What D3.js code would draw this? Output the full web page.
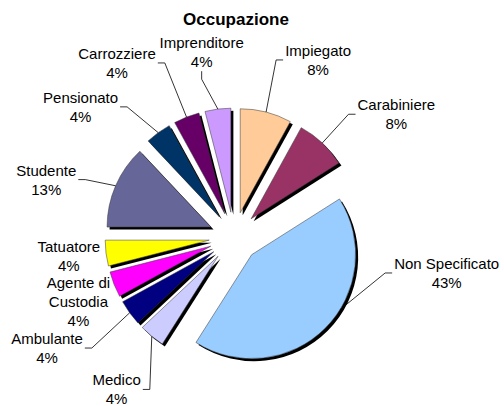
<!DOCTYPE html>
<html>
<head>
<meta charset="utf-8">
<script src="https://cdn.jsdelivr.net/npm/d3@7"></script>
<style>
  html, body { margin: 0; padding: 0; background: #fff; }
  svg { display: block; }
  text { font-family: Arial, "Liberation Sans", sans-serif; fill: #000; }
</style>
</head>
<body>
<svg width="504" height="406"></svg>
<script>
// data, clockwise from 12 o'clock
var categories = ['Impiegato', 'Carabiniere', 'Non Specificato', 'Medico', 'Ambulante',
    'Agente di Custodia', 'Tatuatore', 'Studente', 'Pensionato', 'Carrozziere', 'Imprenditore'];
var values = [8, 8, 43, 4, 4, 4, 4, 13, 4, 4, 4];
var colors = ['#FFCC99', '#993366', '#99CCFF', '#CCCCFF', '#000080',
    '#FF00FF', '#FFFF00', '#666699', '#003366', '#660066', '#CC99FF'];

// label layout (polar, around the pie centre), labels were hand placed in the original
var labelAngle = [25.4, 52.9, 99.6, 217.6, 239.3, 247.4, 263.4, 287.0, 310.3, 326.1, 350.1];
var labelRadius = [196, 203.5, 215.7, 192.4, 217.5, 168.5, 166.3, 196.3, 201.2, 209.7, 188.1];
var leaderAt = [0.5, 0.5, 0.416, 0.5, 0.5, 0.5, 0.5, 0.5, 0.5, 0.5, 0.5];

var cx = 234, cy = 237;
var radius = 104;
var explode = 25;
var lineH = 19;
var rad = Math.PI / 180;

var svg = d3.select('svg');

svg.append('text')
    .attr('x', 236)
    .attr('y', 25)
    .attr('text-anchor', 'middle')
    .style('font-size', '17px')
    .style('font-weight', 'bold')
    .text('Occupazione');

var pie = d3.pie().sort(null).value(function (d) { return d; });
var arc = d3.arc().innerRadius(0).outerRadius(radius);
var slices = pie(values);

var g = svg.append('g').attr('transform', 'translate(' + cx + ',' + cy + ')');

function offset(d) {
    var p = d3.pointRadial((d.startAngle + d.endAngle) / 2, explode);
    return p;
}

// shadows first
g.selectAll('path.shadow')
    .data(slices)
    .enter()
    .append('path')
    .attr('class', 'shadow')
    .attr('d', arc)
    .attr('fill', '#000')
    .attr('transform', function (d) {
        var p = offset(d);
        return 'translate(' + (p[0] + 2.5) + ',' + (p[1] + 2.5) + ')';
    });

g.selectAll('path.slice')
    .data(slices)
    .enter()
    .append('path')
    .attr('class', 'slice')
    .attr('d', arc)
    .attr('fill', function (d, i) { return colors[i]; })
    .attr('stroke', '#333')
    .attr('stroke-width', 0.5)
    .attr('transform', function (d) {
        var p = offset(d);
        return 'translate(' + p[0] + ',' + p[1] + ')';
    });

// labels
var total = d3.sum(values);
var labels = g.selectAll('g.label')
    .data(slices)
    .enter()
    .append('g')
    .attr('class', 'label');

labels.each(function (d, i) {
    var words = categories[i].split(' ');
    var lines = words.length > 2
        ? [words.slice(0, 2).join(' '), words.slice(2).join(' ')]
        : [categories[i]];
    lines.push(Math.round(values[i] / total * 100) + '%');

    var c = d3.pointRadial(labelAngle[i] * rad, labelRadius[i]);
    var n = lines.length;
    var t = d3.select(this).append('text')
        .attr('text-anchor', 'middle')
        .style('font-size', '15px');
    lines.forEach(function (s, k) {
        t.append('tspan')
            .attr('x', c[0])
            .attr('y', c[1] + (k - (n - 1) / 2) * lineH + 5.4)
            .text(s);
    });

    // leader line from the slice's outer arc to the label box
    var w = 0;
    t.selectAll('tspan').each(function () { w = Math.max(w, this.getComputedTextLength()); });
    var a = d.startAngle + (d.endAngle - d.startAngle) * leaderAt[i];
    var o = offset(d);
    var e = d3.pointRadial(a, radius);
    var end = [o[0] + e[0], o[1] + e[1]];
    var left = c[0] - w / 2, right = c[0] + w / 2;
    var start, elbow;
    if (end[0] >= left && end[0] <= right) {
        var by = end[1] > c[1] ? c[1] + (n - 1) / 2 * lineH + 10 : c[1] - (n - 1) / 2 * lineH - 12;
        start = [c[0], by];
        elbow = [c[0], by + (end[1] > c[1] ? 8 : -8)];
    } else if (end[0] > right) {
        start = [right + 2, c[1]];
        elbow = [right + 9, c[1]];
    } else {
        start = [left - 2, c[1]];
        elbow = [left - 9, c[1]];
    }
    var dist = Math.hypot(end[0] - start[0], end[1] - start[1]);
    if (dist > 20) {
        d3.select(this).append('path')
            .attr('d', d3.line()([start, elbow, end]))
            .attr('fill', 'none')
            .attr('stroke', '#000')
            .attr('stroke-width', 0.8);
    }
});
</script>
</body>
</html>
